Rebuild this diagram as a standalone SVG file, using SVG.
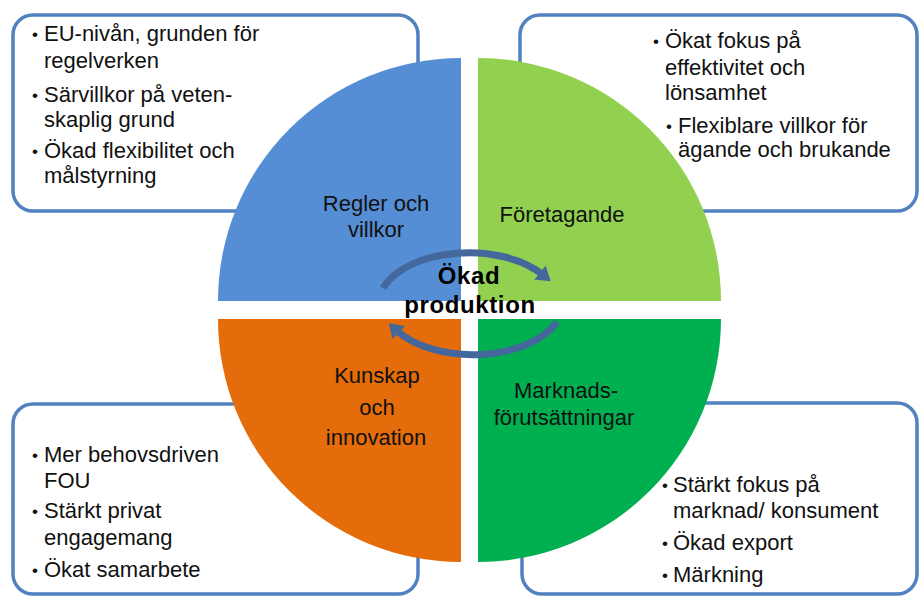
<svg xmlns="http://www.w3.org/2000/svg" width="919" height="598" viewBox="0 0 919 598">
<style>
.box{fill:#fff;stroke:#5281C0;stroke-width:3.5}
.t{font-family:"Liberation Sans",Arial,sans-serif;font-size:22px;fill:#111}
.d{font-family:"Liberation Sans",Arial,sans-serif;font-size:17px;fill:#111}
.c{font-family:"Liberation Sans",Arial,sans-serif;font-size:22px;fill:#111;text-anchor:middle}
.b{font-family:"Liberation Sans",Arial,sans-serif;font-size:24px;font-weight:bold;fill:#000;text-anchor:middle;letter-spacing:0.6px}
.arc{fill:none;stroke:#44689C;stroke-width:7}
</style>
<defs>
<marker id="ah" markerUnits="userSpaceOnUse" markerWidth="20" markerHeight="20" refX="4" refY="9" orient="auto">
<path d="M0,0 L14,9 L0,18 z" fill="#44689C"/>
</marker>
</defs>
<rect width="919" height="598" fill="#fff"/>
<g id="box-tl"><rect class="box" x="13" y="15" width="405" height="196" rx="20"/></g>
<g id="box-tr"><rect class="box" x="520" y="15" width="397" height="196" rx="20"/></g>
<g id="box-bl"><rect class="box" x="13" y="404" width="405" height="190" rx="20"/></g>
<g id="box-br"><rect class="box" x="522" y="403" width="395" height="191" rx="20"/></g>

<g id="q-regler">
<path d="M461,301 L218,301 A243,243 0 0 1 461,58 Z" fill="#558ED5"/>
<text class="c" x="376" y="211">Regler och</text>
<text class="c" x="376" y="237">villkor</text>
</g>
<g id="q-foretagande">
<path d="M478,301 L478,58 A243,243 0 0 1 721,301 Z" fill="#92D050"/>
<text class="c" x="562" y="222">Företagande</text>
</g>
<g id="q-kunskap">
<path d="M461,319 L461,562 A243,243 0 0 1 218,319 Z" fill="#E46C0A"/>
<text class="c" x="377" y="383">Kunskap</text>
<text class="c" x="377" y="415">och</text>
<text class="c" x="376" y="445">innovation</text>
</g>
<g id="q-marknad">
<path d="M478,319 L721,319 A243,243 0 0 1 478,562 Z" fill="#00B050"/>
<text class="c" x="566" y="398">Marknads-</text>
<text class="c" x="564" y="425">förutsättningar</text>
</g>

<g id="connectors">
<path class="arc" d="M383,288 A91,53 0 0 1 543,275" marker-end="url(#ah)"/>
<path class="arc" d="M557,322 A91,53 0 0 1 396,330" marker-end="url(#ah)"/>
</g>

<g id="center">
<text class="b" x="469" y="284">Ökad</text>
<text class="b" x="470" y="313">produktion</text>
</g>

<g id="text-tl">
<text class="d" x="32" y="40">•</text><text class="t" x="44" y="41">EU-nivån, grunden för</text>
<text class="t" x="44" y="68">regelverken</text>
<text class="d" x="32" y="101">•</text><text class="t" x="44" y="102">Särvillkor på veten-</text>
<text class="t" x="44" y="127">skaplig grund</text>
<text class="d" x="32" y="157">•</text><text class="t" x="44" y="158">Ökad flexibilitet och</text>
<text class="t" x="44" y="183">målstyrning</text>
</g>
<g id="text-tr">
<text class="d" x="653" y="47">•</text><text class="t" x="665" y="48">Ökat fokus på</text>
<text class="t" x="665" y="75">effektivitet och</text>
<text class="t" x="665" y="100">lönsamhet</text>
<text class="d" x="666" y="132">•</text><text class="t" x="678" y="133">Flexiblare villkor för</text>
<text class="t" x="678" y="157">ägande och brukande</text>
</g>
<g id="text-bl">
<text class="d" x="32" y="461">•</text><text class="t" x="44" y="462">Mer behovsdriven</text>
<text class="t" x="44" y="488">FOU</text>
<text class="d" x="32" y="517">•</text><text class="t" x="44" y="518">Stärkt privat</text>
<text class="t" x="44" y="545">engagemang</text>
<text class="d" x="32" y="576">•</text><text class="t" x="44" y="577">Ökat samarbete</text>
</g>
<g id="text-br">
<text class="d" x="662" y="491">•</text><text class="t" x="673" y="492">Stärkt fokus på</text>
<text class="t" x="673" y="518">marknad/ konsument</text>
<text class="d" x="662" y="549">•</text><text class="t" x="673" y="550">Ökad export</text>
<text class="d" x="662" y="581">•</text><text class="t" x="673" y="582">Märkning</text>
</g>
</svg>
